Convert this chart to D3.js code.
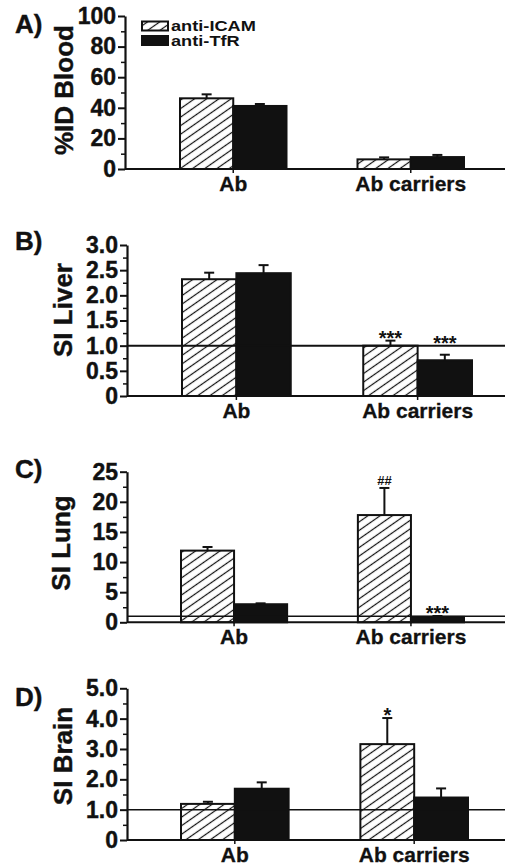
<!DOCTYPE html>
<html>
<head>
<meta charset="utf-8">
<script src="https://cdn.jsdelivr.net/npm/d3@7"></script>
<style>
  body { margin: 0; background: #fff; }
  text { font-family: "Liberation Sans", Arial, Helvetica, sans-serif; font-weight: bold; fill: #111; }
</style>
</head>
<body>
<script>
const groups = ["Ab", "Ab carriers"];
const series = ["anti-ICAM", "anti-TfR"];

// A) blood
const bloodIcam = [46.2, 6.3];
const bloodIcamSd = [2.6, 1.3];
const bloodTfr = [41.2, 7.8];
const bloodTfrSd = [1.3, 1.4];
const bloodTicks = [0, 20, 40, 60, 80, 100];
const bloodTickLabels = ["0", "20", "40", "60", "80", "100"];

// B) liver
const liverIcam = [2.32, 1.0];
const liverIcamSd = [0.13, 0.1];
const liverTfr = [2.44, 0.71];
const liverTfrSd = [0.16, 0.11];
const liverMarks = [["", ""], ["***", "***"]];
const liverTicks = [0, 0.5, 1, 1.5, 2, 2.5, 3];
const liverTickLabels = ["0", "0.5", "1.0", "1.5", "2.0", "2.5", "3.0"];

// C) lung
const lungIcam = [11.9, 17.8];
const lungIcamSd = [0.6, 4.5];
const lungTfr = [3.0, 0.9];
const lungTfrSd = [0.15, 0.15];
const lungMarks = [["", ""], ["##", "***"]];
const lungTicks = [0, 5, 10, 15, 20, 25];
const lungTickLabels = ["0", "5", "10", "15", "20", "25"];

// D) brain
const brainIcam = [1.19, 3.16];
const brainIcamSd = [0.07, 0.86];
const brainTfr = [1.69, 1.4];
const brainTfrSd = [0.21, 0.3];
const brainMarks = [["", ""], ["*", ""]];
const brainTicks = [0, 1, 2, 3, 4, 5];
const brainTickLabels = ["0", "1.0", "2.0", "3.0", "4.0", "5.0"];

const W = 505, H = 866;

const svg = d3.select("body").append("svg")
    .attr("width", W)
    .attr("height", H);

const pat = svg.append("defs").append("pattern")
    .attr("id", "hatch")
    .attr("patternUnits", "userSpaceOnUse")
    .attr("width", 10)
    .attr("height", 7)
    .attr("patternTransform", "rotate(-35)");
pat.append("rect").attr("width", 10).attr("height", 7).attr("fill", "#fff");
pat.append("line")
    .attr("x1", 0).attr("x2", 10).attr("y1", 3.5).attr("y2", 3.5)
    .attr("stroke", "#111").attr("stroke-width", 1.2);

const panels = [
    { letter: "A)", title: "%ID Blood", vals: [bloodIcam, bloodTfr], sds: [bloodIcamSd, bloodTfrSd], marks: null,
      ticks: bloodTicks, labels: bloodTickLabels, ref: null,
      axisX: 125, top: 16, bottom: 169, barRange: [180, 464], letterY: 33, titleX: 73, titleY: 90, refW: 0 },
    { letter: "B)", title: "SI Liver", vals: [liverIcam, liverTfr], sds: [liverIcamSd, liverTfrSd], marks: liverMarks,
      ticks: liverTicks, labels: liverTickLabels, ref: 1,
      axisX: 127, top: 245, bottom: 396, barRange: [182, 472], letterY: 250, titleX: 72, titleY: 310, refW: 2 },
    { letter: "C)", title: "SI Lung", vals: [lungIcam, lungTfr], sds: [lungIcamSd, lungTfrSd], marks: lungMarks,
      ticks: lungTicks, labels: lungTickLabels, ref: 1,
      axisX: 127, top: 471.7, bottom: 622.3, barRange: [181, 464], letterY: 478, titleX: 70, titleY: 543, refW: 1.5 },
    { letter: "D)", title: "SI Brain", vals: [brainIcam, brainTfr], sds: [brainIcamSd, brainTfrSd], marks: brainMarks,
      ticks: brainTicks, labels: brainTickLabels, ref: 1,
      axisX: 127, top: 688.3, bottom: 840, barRange: [181, 468], letterY: 706, titleX: 72, titleY: 756, refW: 1.5 }
];

panels.forEach(p => {
    const g = svg.append("g");
    const ticks = p.ticks;
    const max = ticks[ticks.length - 1];
    const y = d3.scaleLinear().domain([0, max]).range([p.bottom, p.top]);
    const x0 = d3.scaleBand().domain(groups).range(p.barRange).paddingInner(0.4);
    const x1 = d3.scaleBand().domain(series).range([0, x0.bandwidth()]);
    const refY = p.ref !== null ? y(p.ref) : Infinity;

    // bars
    const rows = [];
    groups.forEach((grp, gi) => {
        series.forEach((s, si) => {
            rows.push({ grp, s, si, v: p.vals[si][gi], e: p.sds[si][gi], m: p.marks ? p.marks[gi][si] : "" });
        });
    });

    g.selectAll("rect.bar")
        .data(rows)
        .enter().append("rect")
        .attr("class", "bar")
        .attr("x", d => x0(d.grp) + x1(d.s))
        .attr("y", d => y(d.v))
        .attr("width", x1.bandwidth())
        .attr("height", d => y(0) - y(d.v))
        .attr("fill", d => d.si === 0 ? "url(#hatch)" : "#111")
        .attr("stroke", "#111")
        .attr("stroke-width", 2);

    // error bars (upper only)
    const eb = g.selectAll("g.err").data(rows).enter().append("g")
        .attr("transform", d => `translate(${x0(d.grp) + x1(d.s) + x1.bandwidth() / 2},0)`);
    eb.append("line")
        .attr("y1", d => y(d.v)).attr("y2", d => y(d.v + d.e))
        .attr("stroke", "#111").attr("stroke-width", 2);
    eb.append("line")
        .attr("x1", -5).attr("x2", 5)
        .attr("y1", d => y(d.v + d.e)).attr("y2", d => y(d.v + d.e))
        .attr("stroke", "#111").attr("stroke-width", 2);
    eb.filter(d => d.m).append("text")
        .attr("text-anchor", "middle")
        .attr("y", d => {
            const base = Math.min(y(d.v + d.e), refY) - 4;
            return d.m.startsWith("#") ? base + 1 : base + 8;
        })
        .style("font-size", d => d.m.startsWith("#") ? "13px" : "20px")
        .text(d => d.m);

    // reference line
    if (p.ref !== null) {
        g.append("line")
            .attr("x1", p.axisX).attr("x2", W)
            .attr("y1", refY).attr("y2", refY)
            .attr("stroke", "#111").attr("stroke-width", p.refW);
    }

    // x axis
    g.append("line")
        .attr("x1", p.axisX).attr("x2", W)
        .attr("y1", p.bottom).attr("y2", p.bottom)
        .attr("stroke", "#111").attr("stroke-width", 2);
    g.selectAll("line.cat").data(groups).enter().append("line")
        .attr("x1", d => x0(d) + x0.bandwidth() / 2).attr("x2", d => x0(d) + x0.bandwidth() / 2)
        .attr("y1", p.bottom).attr("y2", p.bottom + 4)
        .attr("stroke", "#111").attr("stroke-width", 1.5);
    g.selectAll("text.cat").data(groups).enter().append("text")
        .attr("x", d => x0(d) + x0.bandwidth() / 2)
        .attr("y", p.bottom + 21.5)
        .attr("text-anchor", "middle")
        .attr("stroke", "#111").attr("stroke-width", 0.3)
        .style("font-size", "21px")
        .text(d => d);

    // y axis
    const minor = ticks.slice(1).map((t, i) => (t + ticks[i]) / 2);
    const minorAxis = g.append("g")
        .attr("transform", `translate(${p.axisX},0)`)
        .call(d3.axisLeft(y).tickValues(minor).tickSize(4).tickFormat(""));
    minorAxis.select(".domain").remove();
    minorAxis.selectAll("line").attr("stroke", "#111").attr("stroke-width", 1.5);

    const yAxis = g.append("g")
        .attr("transform", `translate(${p.axisX},0)`)
        .call(d3.axisLeft(y).tickValues(ticks).tickFormat((d, i) => p.labels[i])
            .tickSize(7).tickPadding(2).tickSizeOuter(0));
    yAxis.select(".domain").attr("stroke", "#111").attr("stroke-width", 2.2);
    yAxis.selectAll(".tick line").attr("stroke", "#111").attr("stroke-width", 2);
    yAxis.selectAll(".tick text")
        .attr("fill", "#111")
        .attr("stroke", "#111")
        .attr("stroke-width", 0.4)
        .style("font-family", "'Liberation Sans', Arial, sans-serif")
        .style("font-weight", "bold")
        .style("font-size", "23px");

    // titles
    g.append("text")
        .attr("transform", `translate(${p.titleX},${p.titleY}) rotate(-90)`)
        .attr("text-anchor", "middle")
        .attr("stroke", "#111").attr("stroke-width", 0.4)
        .style("font-size", "26px")
        .text(p.title);
    g.append("text")
        .attr("x", 15).attr("y", p.letterY)
        .attr("stroke", "#111").attr("stroke-width", 0.4)
        .style("font-size", "26px")
        .text(p.letter);
});

// legend
const legend = svg.append("g").attr("transform", "translate(142,21.5)");
series.forEach((s, i) => {
    legend.append("rect")
        .attr("x", 0).attr("y", i * 14.5)
        .attr("width", 26).attr("height", 9)
        .attr("fill", i === 0 ? "url(#hatch)" : "#111")
        .attr("stroke", "#111").attr("stroke-width", 2);
    legend.append("text")
        .attr("transform", `translate(29,${i * 14.5 + 9.5}) scale(1.3,1)`)
        .style("font-size", "14px")
        .text(s);
});
</script>
</body>
</html>
